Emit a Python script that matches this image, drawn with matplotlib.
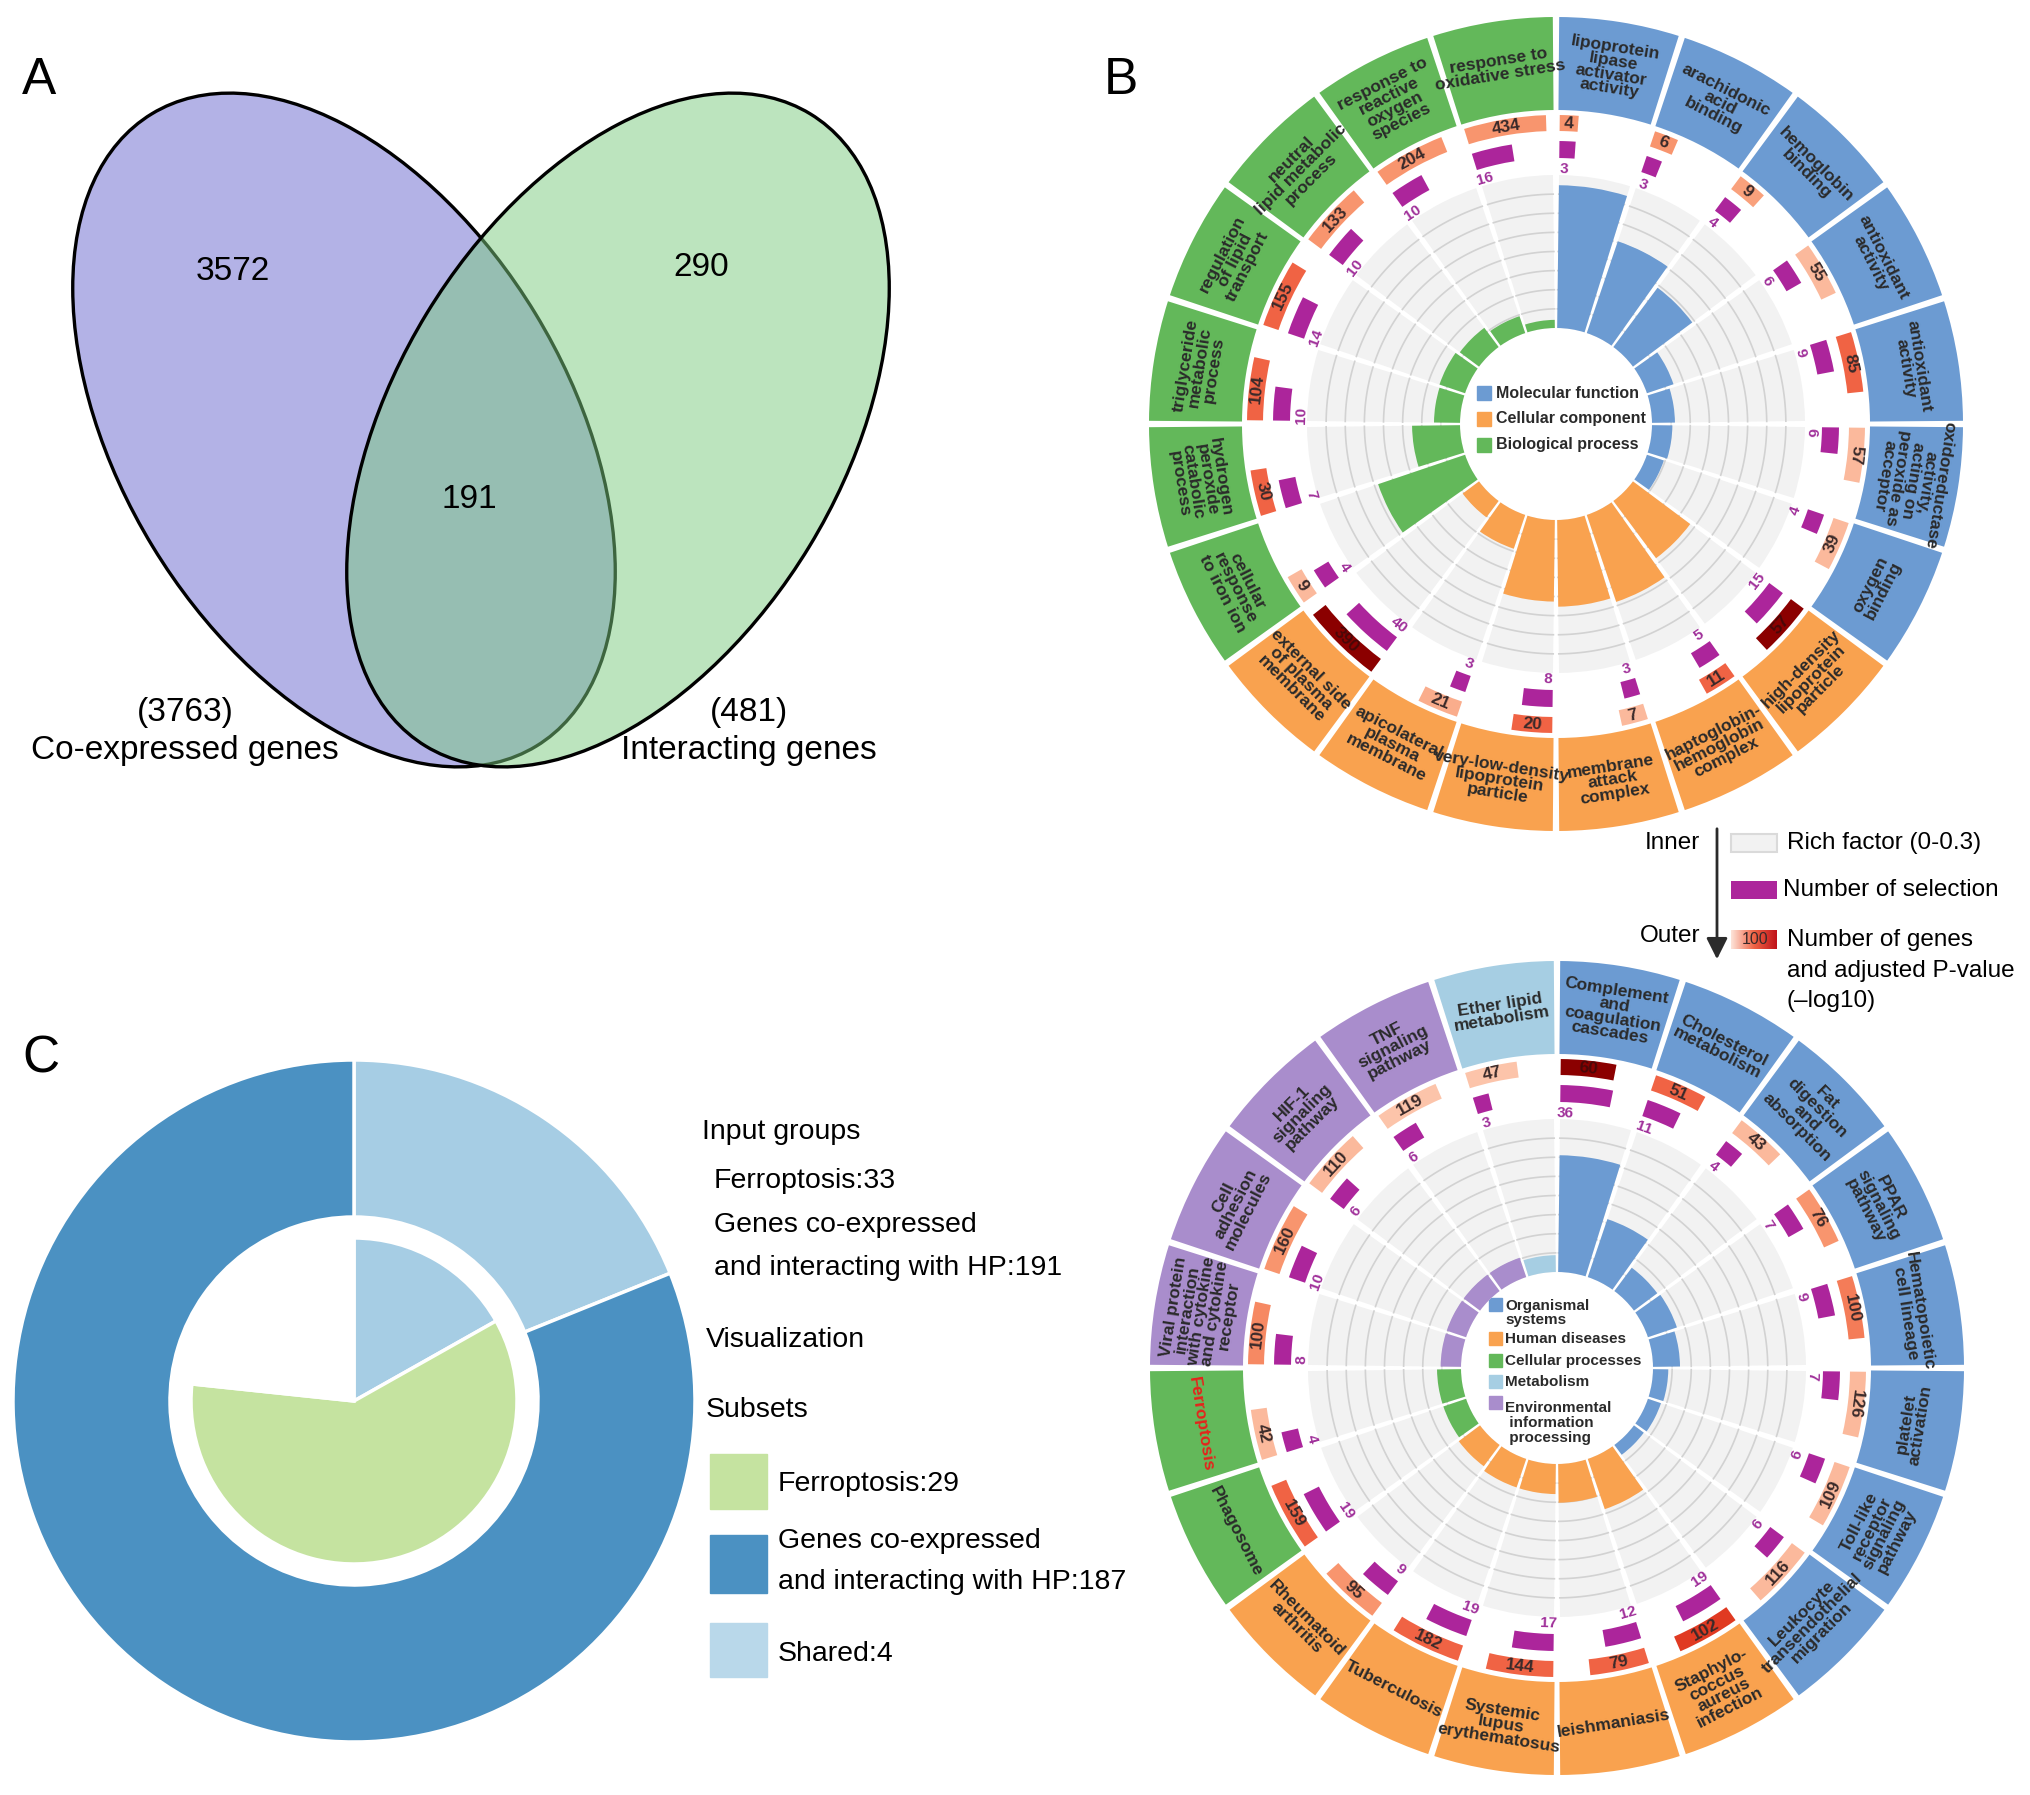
import numpy as np
import matplotlib
matplotlib.use('Agg')
import matplotlib.pyplot as plt
from matplotlib.patches import Ellipse, Rectangle
from matplotlib.colors import LinearSegmentedColormap, Normalize
from matplotlib import font_manager

W, H = 2031, 1795
plt.rcParams['font.family'] = ['Liberation Sans', 'DejaVu Sans']

# narrow bold face for the ring labels, if it is there
narrow = [f.name for f in font_manager.fontManager.ttflist if f.name == 'Liberation Sans Narrow']
RING_FONT = ['Liberation Sans Narrow', 'Liberation Sans'] if narrow else ['Liberation Sans']
RING_FS = 14 if narrow else 12.5

# ---------------- data ----------------
# A: Venn
venn_left_only = 3572
venn_right_only = 290
venn_shared = 191
venn_left_total = 3763
venn_right_total = 481
venn_left_name = 'Co-expressed genes'
venn_right_name = 'Interacting genes'

# B: GO enrichment circle
go_terms = ['lipoprotein\nlipase\nactivator\nactivity', 'arachidonic\nacid\nbinding',
            'hemoglobin\nbinding', 'antioxidant\nactivity', 'antioxidant\nactivity',
            'oxidoreductase\nactivity,\nacting on\nperoxide as\nacceptor', 'oxygen\nbinding',
            'high-density\nlipoprotein\nparticle', 'haptoglobin-\nhemoglobin\ncomplex',
            'membrane\nattack\ncomplex', 'very-low-density\nlipoprotein\nparticle',
            'apicolateral\nplasma\nmembrane', 'external side\nof plasma\nmembrane',
            'cellular\nresponse\nto iron ion', 'hydrogen\nperoxide\ncatabolic\nprocess',
            'triglyceride\nmetabolic\nprocess', 'regulation\nof lipid\ntransport',
            'neutral\nlipid metabolic\nprocess', 'response to\nreactive\noxygen\nspecies',
            'response to\noxidative stress']
go_groups = ['MF'] * 7 + ['CC'] * 6 + ['BP'] * 7
go_rich = [0.28, 0.19, 0.145, 0.055, 0.045, 0.04, 0.035,
           0.14, 0.18, 0.17, 0.16, 0.07, 0.04,
           0.18, 0.094, 0.051, 0.053, 0.047, 0.035, 0.016]
go_genes = [4, 6, 9, 55, 85, 57, 39, 57, 11, 7, 20, 21, 390, 9, 30, 104, 155, 133, 204, 434]
go_selected = [3, 3, 4, 6, 9, 6, 4, 15, 5, 3, 8, 3, 40, 4, 7, 10, 14, 10, 10, 16]
go_padj = [4, 4, 3.5, 2.5, 6, 2.5, 2.5, 14, 6, 2.5, 6, 3, 14, 2.5, 6, 6, 6, 4, 4, 4]
go_legend = ['Molecular function', 'Cellular component', 'Biological process']

# D: KEGG enrichment circle
kegg_terms = ['Complement\nand\ncoagulation\ncascades', 'Cholesterol\nmetabolism',
              'Fat\ndigestion\nand\nabsorption', 'PPAR\nsignaling\npathway',
              'Hematopoietic\ncell lineage', 'platelet\nactivation',
              'Toll-like\nreceptor\nsignaling\npathway', 'Leukocyte\ntransendothelial\nmigration',
              'Staphylo-\ncoccus\naureus\ninfection', 'leishmaniasis',
              'Systemic\nlupus\nerythematosus', 'Tuberculosis', 'Rheumatoid\narthritis',
              'Phagosome', 'Ferroptosis',
              'Viral protein\ninteraction\nwith cytokine\nand cytokine\nreceptor',
              'Cell\nadhesion\nmolecules', 'HIF-1\nsignaling\npathway',
              'TNF\nsignaling\npathway', 'Ether lipid\nmetabolism']
kegg_groups = ['OS'] * 8 + ['HD'] * 5 + ['CP'] * 2 + ['EIP'] * 4 + ['MET']
kegg_rich = [0.229, 0.12, 0.057, 0.06, 0.053, 0.03, 0.027, 0.024,
             0.104, 0.076, 0.059, 0.059, 0.052,
             0.047, 0.047, 0.04, 0.04, 0.04, 0.04, 0.033]
kegg_genes = [60, 51, 43, 76, 100, 126, 109, 116, 102, 79, 144, 182, 95, 159, 42, 100, 160, 110, 119, 47]
kegg_selected = [36, 11, 4, 7, 9, 7, 6, 6, 19, 12, 17, 19, 9, 19, 4, 8, 10, 6, 6, 3]
kegg_padj = [14, 6, 2.5, 4, 5, 2.5, 2.5, 2.5, 8, 6, 6, 6, 4, 6, 2.5, 4.5, 4, 2.5, 2, 2]
kegg_legend = ['Organismal\nsystems', 'Human diseases', 'Cellular processes',
               'Metabolism', 'Environmental\n information\n processing']

# C: Ferroptosis / HP genes circle
shared_genes = ['SLC40A1', 'HMOX1', 'CP  TF']
c_shared = 4
c_ferro_only = 29
c_hp_only = 187
c_ferro_total = 33
c_hp_total = 191

# ---------------- styles ----------------
go_palette = {'MF': '#6c9bd2', 'CC': '#f9a24f', 'BP': '#63b85a'}
kegg_palette = {'OS': '#6c9bd2', 'HD': '#f9a24f', 'CP': '#63b85a', 'MET': '#a6cee3', 'EIP': '#a98dcc'}
gene_cmap = LinearSegmentedColormap.from_list(
    'genes', [(0, '#fcc4aa'), (0.17, '#f8946c'), (0.33, '#f06445'),
              (0.5, '#e03a22'), (0.75, '#b01010'), (1, '#8b0000')])
gene_norm = Normalize(2, 14)
PURPLE = '#ac259b'

R_LAB0, R_LAB1 = 314, 407
R_G0, R_G1 = 293, 309
R_S0, R_S1 = 266, 283
R_RF0, R_RF1 = 96, 249
LAB_GAP = np.radians(0.9)
RF_GAP = np.radians(1.4)
BAR_PAD = np.radians(0.7)
K_GENES = 5.85   # degrees per decade
K_SEL = 6.9

fig = plt.figure(figsize=(W / 100, H / 100), dpi=100)
bg = fig.add_axes([0, 0, 1, 1])
bg.axis('off')


def tangent_rot(deg, flip_from):
    if flip_from < deg < 270:
        return 180 - deg
    return -deg


def draw_wheel(cx, cy, terms, groups, palette, rich, genes, selected, padj, label_flip):
    R = R_LAB1 + 2
    ax = fig.add_axes([(cx - R) / W, (H - cy - R) / H, 2 * R / W, 2 * R / H], projection='polar')
    ax.set_theta_zero_location('N')
    ax.set_theta_direction(-1)
    ax.set_ylim(0, R)
    ax.set_axis_off()

    n = len(terms)
    sec = 2 * np.pi / n
    start = np.arange(n) * sec
    cols = [palette[g] for g in groups]

    # outer label ring
    ax.bar(start + LAB_GAP / 2, R_LAB1 - R_LAB0, width=sec - LAB_GAP, bottom=R_LAB0,
           align='edge', color=cols, linewidth=0)
    for i, t in enumerate(terms):
        mid = np.degrees(start[i] + sec / 2)
        tc = '#e5231b' if t == 'Ferroptosis' else '#2a2a2a'
        ax.text(np.radians(mid), (R_LAB0 + R_LAB1) / 2, t, rotation=tangent_rot(mid, label_flip),
                rotation_mode='anchor', ha='center', va='center', fontsize=RING_FS,
                family=RING_FONT, fontweight='bold', color=tc, linespacing=0.92)

    # rich factor ring
    ax.bar(start + RF_GAP / 2, R_RF1 - R_RF0, width=sec - RF_GAP, bottom=R_RF0,
           align='edge', color='#f2f2f2', linewidth=0, zorder=1)
    for s in start:
        th = np.linspace(s + RF_GAP / 2, s + sec - RF_GAP / 2, 40)
        for k in range(1, 8):
            ax.plot(th, np.full_like(th, R_RF0 + k * (R_RF1 - R_RF0) / 8),
                    color='#d2d2d2', lw=1.2, zorder=2)
    rf_h = np.array(rich) / 0.3 * (R_RF1 - R_RF0)
    ax.bar(start + RF_GAP / 2, rf_h, width=sec - RF_GAP, bottom=R_RF0,
           align='edge', color=cols, linewidth=0, zorder=3)

    # number of genes (coloured by adjusted p) and number of selection
    gw = np.radians(K_GENES * np.log10(genes))
    gcols = gene_cmap(gene_norm(padj))
    ax.bar(start + BAR_PAD, R_G1 - R_G0, width=gw, bottom=R_G0, align='edge',
           color=gcols, linewidth=0, zorder=3)
    sw = np.radians(K_SEL * np.log10(selected))
    ax.bar(start + BAR_PAD, R_S1 - R_S0, width=sw, bottom=R_S0, align='edge',
           color=PURPLE, linewidth=0, zorder=3)

    for i in range(n):
        gm = np.degrees(start[i] + BAR_PAD + gw[i] / 2)
        tcol = '#4a0808' if padj[i] > 10 else '#3a2a2a'
        ax.text(np.radians(gm), (R_G0 + R_G1) / 2, str(genes[i]), rotation=tangent_rot(gm, 104),
                rotation_mode='anchor', ha='center', va='center', fontsize=12.5,
                fontweight='bold', color=tcol, zorder=4)
        sm = np.degrees(start[i]) + 1.9
        ax.text(np.radians(sm), 255, str(selected[i]), rotation=tangent_rot(sm, 104),
                rotation_mode='anchor', ha='center', va='center', fontsize=11,
                fontweight='bold', color='#a0309a', zorder=4)
    return ax


# ---------------- A: Venn ----------------
bg.add_patch(Ellipse((344, 430), 740, 448, angle=58.7, facecolor='#b3b2e6',
                     edgecolor='black', lw=2.4, zorder=1))
bg.add_patch(Ellipse((618, 430), 740, 448, angle=-58.7, facecolor='#7bcb7f',
                     edgecolor='none', alpha=0.5, zorder=2))
bg.add_patch(Ellipse((618, 430), 740, 448, angle=-58.7, facecolor='none',
                     edgecolor='black', lw=2.4, zorder=3))
vfs = 24
bg.text(233, 272, str(venn_left_only), fontsize=vfs, ha='center', va='center')
bg.text(701, 268, str(venn_right_only), fontsize=vfs, ha='center', va='center')
bg.text(469, 500, str(venn_shared), fontsize=vfs, ha='center', va='center')
bg.text(185, 712, f'({venn_left_total})', fontsize=vfs, ha='center', va='center')
bg.text(185, 751, venn_left_name, fontsize=vfs, ha='center', va='center')
bg.text(749, 712, f'({venn_right_total})', fontsize=vfs, ha='center', va='center')
bg.text(749, 751, venn_right_name, fontsize=vfs, ha='center', va='center')

# panel letters
for letter, (x, y) in {'A': (22, 80), 'B': (1104, 80), 'C': (22, 1059)}.items():
    bg.text(x, y, letter, fontsize=37, ha='left', va='center')

# ---------------- B and D: circles ----------------
draw_wheel(1556, 424, go_terms, go_groups, go_palette, go_rich, go_genes, go_selected, go_padj, 100)
draw_wheel(1557, 1368, kegg_terms, kegg_groups, kegg_palette, kegg_rich, kegg_genes,
           kegg_selected, kegg_padj, 90)

# inner legends
for i, (lab, g) in enumerate(zip(go_legend, ['MF', 'CC', 'BP'])):
    y = 393 + i * 26
    bg.add_patch(Rectangle((1477, y - 7), 14, 14, color=go_palette[g], zorder=5))
    bg.text(1496, y, lab, fontsize=11.5, fontweight='bold', color='#2a2a2a',
            ha='left', va='center', zorder=5)
leg_y = [1313, 1339, 1361, 1382, 1423]
for lab, g, y in zip(kegg_legend, ['OS', 'HD', 'CP', 'MET', 'EIP'], leg_y):
    yy = 1305 if g == 'OS' else (1403 if g == 'EIP' else y)
    bg.add_patch(Rectangle((1489, yy - 7), 13, 13, color=kegg_palette[g], zorder=5))
    bg.text(1505, y, lab, fontsize=11, fontweight='bold', color='#2a2a2a',
            ha='left', va='center', zorder=5, linespacing=1.05)

# middle legend
bg.annotate('', xy=(1717, 962), xytext=(1717, 826),
            arrowprops=dict(arrowstyle='-|>', color='#2b2b2b', lw=2, mutation_scale=32))
bg.text(1700, 843, 'Inner', fontsize=17.5, ha='right', va='center')
bg.text(1700, 936, 'Outer', fontsize=17.5, ha='right', va='center')
grad = np.linspace(0, 1, 64).reshape(1, -1)
bg.add_patch(Rectangle((1731, 834), 46, 18, facecolor='#f2f2f2', edgecolor='#dadada', lw=1.5))
bg.add_patch(Rectangle((1731, 881), 46, 18, facecolor=PURPLE, edgecolor='none'))
red_grad = LinearSegmentedColormap.from_list('rg', ['#fde3d8', '#f06445', '#c0141b'])
bg.imshow(grad, cmap=red_grad, extent=[1731, 1777, 949, 930], aspect='auto', zorder=2)
bg.text(1755, 940, '100', fontsize=11.5, ha='center', va='center', color='#3a2a2a', zorder=3)
bg.text(1787, 843, 'Rich factor (0-0.3)', fontsize=17.5, ha='left', va='center')
bg.text(1783, 890, 'Number of selection', fontsize=17.5, ha='left', va='center')
bg.text(1787, 940, 'Number of genes', fontsize=17.5, ha='left', va='center')
bg.text(1787, 971, 'and adjusted P-value', fontsize=17.5, ha='left', va='center')
bg.text(1787, 1001, '(\u2013log10)', fontsize=17.5, ha='left', va='center')

# ---------------- C: donut ----------------
c_light = '#a6cde4'
c_dark = '#4b91c2'
c_green = '#c5e3a0'
RC = 341
axc = fig.add_axes([(354 - 350) / W, (H - 1401 - 350) / H, 700 / W, 700 / H])
outer_span = [68, 292]      # drawn angles of shared / HP-only
inner_span = [60.6, 215.4, 84]
axc.pie(outer_span, radius=RC, startangle=90, counterclock=False, colors=[c_light, c_dark],
        wedgeprops=dict(width=RC - 184, edgecolor='white', linewidth=2.5))
axc.pie(inner_span, radius=163, startangle=90, counterclock=False,
        colors=[c_light, c_green, (1, 1, 1, 0)],
        wedgeprops=dict(edgecolor='white', linewidth=2.5))
axc.set_xlim(-350, 350)
axc.set_ylim(-350, 350)
axc.set_aspect('equal')
axc.axis('off')

for txt, (x, y) in zip(shared_genes, [(456, 1131), (524, 1197), (562, 1260)]):
    bg.text(x, y, txt, fontsize=27, ha='center', va='center', color='#2b2b2b', zorder=6)
bg.text(413, 1318, str(c_shared), fontsize=25, ha='center', va='center', color='#2b2b2b', zorder=6)
bg.text(355, 1489, str(c_ferro_only), fontsize=25, ha='center', va='center', color='#2b2b2b', zorder=6)
bg.text(354, 1655, str(c_hp_only), fontsize=25, ha='center', va='center', color='#2b2b2b', zorder=6)

cfs = 20.5
bg.text(702, 1132, 'Input groups', fontsize=cfs, ha='left', va='center')
bg.text(714, 1181, f'Ferroptosis:{c_ferro_total}', fontsize=cfs, ha='left', va='center')
bg.text(714, 1225, 'Genes co-expressed', fontsize=cfs, ha='left', va='center')
bg.text(714, 1268, f'and interacting with HP:{c_hp_total}', fontsize=cfs, ha='left', va='center')
bg.text(706, 1340, 'Visualization', fontsize=cfs, ha='left', va='center')
bg.text(706, 1410, 'Subsets', fontsize=cfs, ha='left', va='center')
bg.add_patch(Rectangle((710, 1454), 57, 55, color=c_green))
bg.add_patch(Rectangle((710, 1535), 57, 58, color=c_dark))
bg.add_patch(Rectangle((710, 1623), 57, 54, color='#b9d8ea'))
bg.text(778, 1484, f'Ferroptosis:{c_ferro_only}', fontsize=cfs, ha='left', va='center')
bg.text(778, 1541, 'Genes co-expressed', fontsize=cfs, ha='left', va='center')
bg.text(778, 1582, f'and interacting with HP:{c_hp_only}', fontsize=cfs, ha='left', va='center')
bg.text(778, 1654, f'Shared:{c_shared}', fontsize=cfs, ha='left', va='center')

bg.set_xlim(0, W)
bg.set_ylim(H, 0)
fig.savefig('out.png', dpi=100)
